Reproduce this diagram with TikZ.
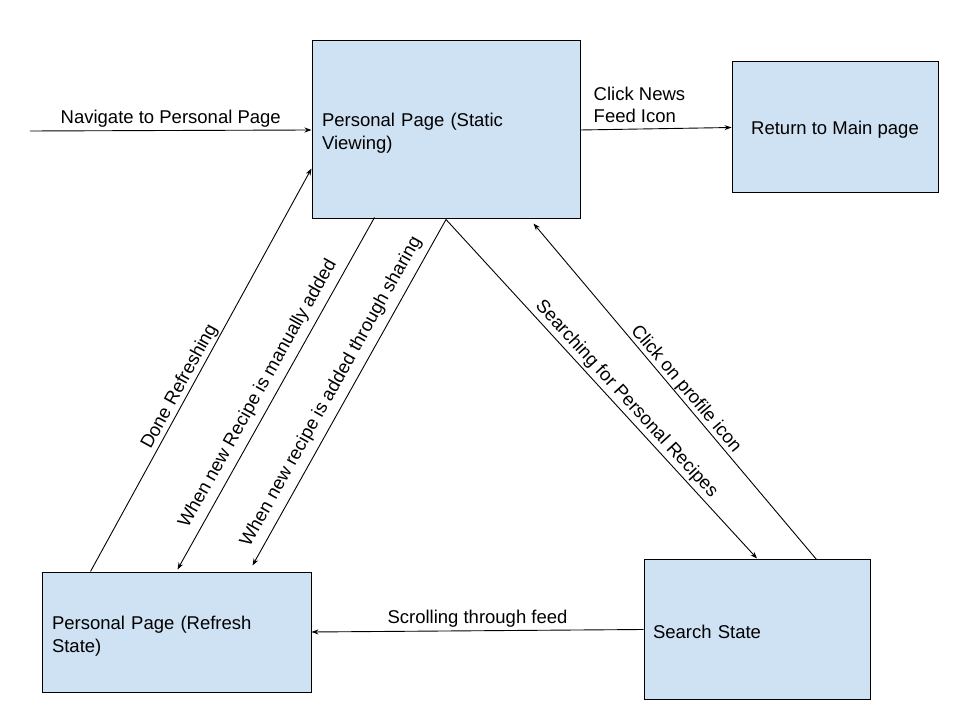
\documentclass[tikz,border=0pt]{standalone}
\usepackage{fontspec}
\setmainfont{Liberation Sans}
\usetikzlibrary{arrows.meta}
\definecolor{boxfill}{HTML}{CFE2F3}
\newcommand{\lowr}[2]{\raisebox{-#1}[\height][\depth]{#2}}
\begin{document}
\begin{tikzpicture}[x=1pt,y=1pt,
  every node/.style={font=\fontsize{18.5}{22.5}\selectfont, text=black},
  statebox/.style={draw=black, line width=1pt, fill=boxfill, rectangle, inner sep=0pt},
  conn/.style={draw=black, line width=0.9pt, -{Stealth[length=7pt,width=5pt]}},
  lbl/.style={inner sep=0pt, sloped}]
\useasboundingbox (0,0) rectangle (960,720);
% boxes
\node[statebox, minimum width=268, minimum height=178, text width=248, align=left] (static) at (446,590) {\lowr{3pt}{Personal Page (Static}\\\lowr{3pt}{Viewing)}};
\node[statebox, minimum width=206, minimum height=131, align=center] (main) at (835,592.5) {\lowr{2pt}{Return to Main page}};
\node[statebox, minimum width=269, minimum height=120, text width=249, align=left] (refresh) at (176.5,88) {\lowr{4pt}{Personal Page (Refresh}\\\lowr{4pt}{State)}};
\node[statebox, minimum width=226, minimum height=139, text width=208, align=left] (search) at (757,90.5) {\lowr{2pt}{Search State}};
% entry
\coordinate (entry) at (30,589);
\draw[conn] (entry) -- node[midway, anchor=base, yshift=7pt, inner sep=0pt] {Navigate to Personal Page} (static.west);
% news feed
\draw[conn] (static.east) -- (main.west);
\node[anchor=south west, align=left, inner sep=0pt] (newslbl) at ([xshift=13pt,yshift=7pt]static.east) {Click News\\Feed Icon};
% scrolling
\draw[conn] (search.west) -- node[midway, anchor=base, yshift=7pt, inner sep=0pt] {Scrolling through feed} (refresh.east);
% done refreshing
\draw[conn] ([xshift=49pt]refresh.north west) -- node[lbl, pos=0.446, above=1.5pt] {Done Refreshing} ([yshift=51pt]static.south west);
% manual
\draw[conn] ([xshift=63pt,yshift=2pt]static.south west) -- node[lbl, pos=0.522, above=6.5pt] {When new Recipe is manually added} ([xshift=136pt,yshift=2pt]refresh.north west);
% sharing
\draw[conn] (static.south) -- node[lbl, pos=0.52, above=7pt] {When new recipe is added through sharing} ([xshift=211pt,yshift=6pt]refresh.north west);
% searching
\draw[conn] (static.south) -- node[lbl, pos=0.553, above=2.4pt] {Searching for Personal Recipes} ([yshift=1pt]search.north);
% click profile
\draw[conn] ([xshift=173pt]search.north west) -- node[lbl, pos=0.488, above=0.6pt] {Click on profile icon} ([xshift=-47pt,yshift=-4pt]static.south east);
\end{tikzpicture}
\end{document}
